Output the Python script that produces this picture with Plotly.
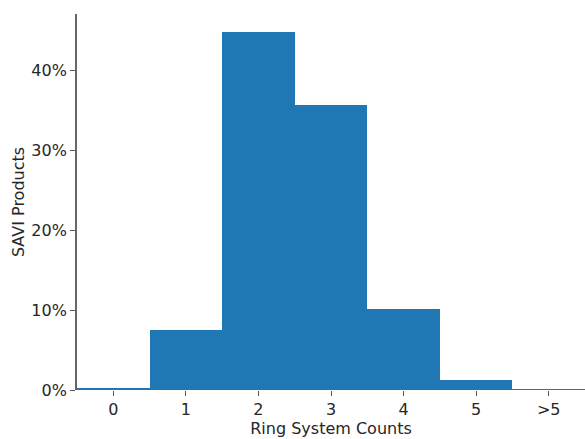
import plotly.graph_objects as go

categories = ["0", "1", "2", "3", "4", "5", ">5"]
positions = [0, 1, 2, 3, 4, 5, 6]
percent = [0.3, 7.5, 44.8, 35.6, 10.15, 1.25, 0.1]
y_tickvals = [0, 10, 20, 30, 40]
y_ticktext = ["0%", "10%", "20%", "30%", "40%"]

fig = go.Figure(go.Bar(
    x=positions, y=percent, width=1.0,
    marker=dict(color="#1f77b4", line=dict(width=0)),
))
font = dict(family="DejaVu Sans", size=16, color="#262626")
fig.update_layout(
    width=585, height=439,
    margin=dict(l=77, r=0, t=14, b=49),
    plot_bgcolor="white", paper_bgcolor="white",
    bargap=0, showlegend=False,
    font=font,
)
fig.update_xaxes(
    range=[-0.5, 6.5], tickvals=positions, ticktext=categories,
    ticks="outside", ticklen=5, tickwidth=1.2, tickcolor="#555555",
    showline=False, showgrid=False, zeroline=False, automargin=False,
    title=dict(text="Ring System Counts", font=dict(size=16), standoff=2),
)
fig.update_yaxes(
    range=[0, 47], tickvals=y_tickvals, ticktext=y_ticktext,
    ticks="outside", ticklen=5, tickwidth=1.2, tickcolor="#555555",
    showline=True, linecolor="#666666", linewidth=1.8,
    showgrid=False, zeroline=False, automargin=False,
    title=dict(text="SAVI Products", font=dict(size=16), standoff=3),
)
fig.write_html(
    "out.html",
    config={"displayModeBar": False},
    post_script="document.body.style.margin='0';document.body.style.overflow='hidden';",
)
